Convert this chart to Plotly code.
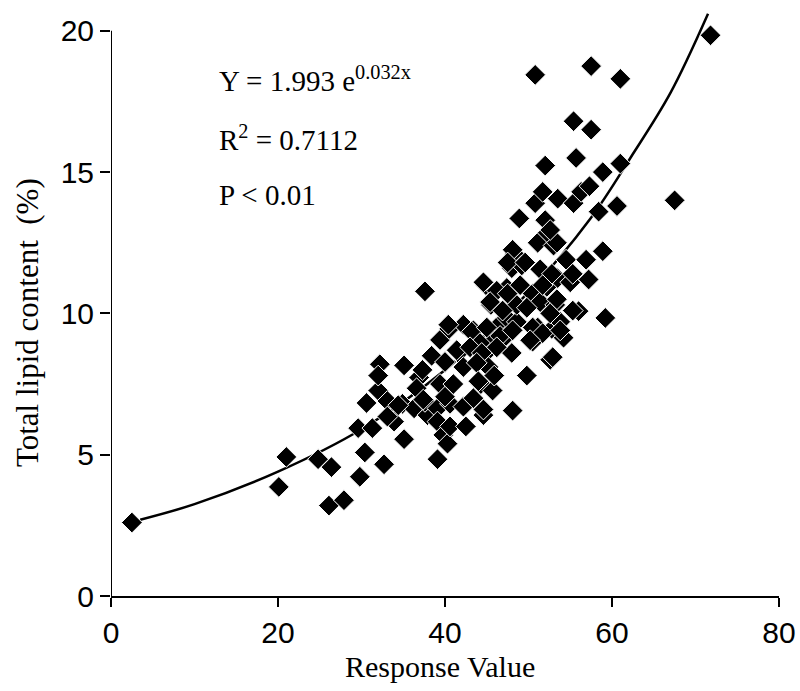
import plotly.graph_objects as go

# Scatter data
response_value = [
    2.5, 20.1, 21.0, 24.8, 26.4, 26.1, 27.9, 29.6, 29.8, 30.4, 30.6, 31.3, 32.2, 32.0, 32.0,
    32.7, 33.1, 33.9, 34.9, 35.1, 35.1, 36.3, 36.9, 37.3, 37.6, 37.9, 37.6, 38.4, 39.1, 39.1,
    39.1, 39.4, 39.4, 39.8, 40.3, 40.0, 40.5, 40.6, 41.0, 40.6, 41.6, 42.2, 42.5, 42.2, 43.4,
    43.4, 44.3, 44.6, 44.9, 44.9, 45.2, 45.5, 45.9, 45.7, 45.9, 46.5, 47.1, 47.4, 47.4, 48.0,
    48.1, 48.0, 48.3, 48.6, 48.6, 48.9, 49.2, 49.8, 50.5, 50.5, 50.8, 50.8, 51.1, 51.1, 51.4,
    51.4, 52.0, 52.0, 51.7, 52.2, 52.6, 52.8, 53.0, 53.2, 53.5, 53.5, 53.8, 54.2, 54.5, 55.0,
    55.4, 55.7, 55.4, 56.0, 56.3, 56.9, 57.2, 57.3, 57.5, 57.5, 58.4, 58.9, 58.9, 59.2, 60.6,
    61.0, 61.0, 67.5, 71.8,
    52.3, 53.4, 48.1, 47.5, 49.6, 52.8, 55.3, 44.6, 46.2, 47.5, 49.0, 51.7, 53.4, 45.4, 46.9,
    49.8, 52.6, 55.3, 43.2, 45.0, 46.6, 48.1, 50.5, 51.7, 53.8, 44.2, 46.2, 50.2, 52.9,
    40.4, 41.4, 43.0, 44.4, 42.2, 43.8, 44.0, 36.6, 37.4, 40.0, 34.4, 33.1, 44.6, 52.6,
]
lipid_content = [
    2.6, 3.86, 4.92, 4.84, 4.56, 3.2, 3.39, 5.94, 4.22, 5.08, 6.83, 5.94, 8.2, 7.27, 7.8,
    4.66, 6.9, 6.17, 6.8, 5.55, 8.16, 6.64, 7.73, 8.0, 10.78, 6.4, 6.87, 8.5, 6.64, 6.17,
    4.84, 9.06, 7.5, 5.7, 5.39, 8.28, 9.45, 6.8, 7.5, 6.0, 8.6, 9.6, 6.0, 6.7, 9.4,
    7.0, 7.5, 6.4, 11.0, 8.6, 8.1, 10.3, 9.06, 7.27, 7.8, 9.6, 9.14, 10.9, 9.84, 8.6,
    6.56, 11.6, 12.1, 9.7, 10.3, 13.36, 11.7, 7.8, 9.0, 10.7, 18.44, 13.9, 9.5, 12.5, 11.56,
    10.4, 15.23, 13.3, 14.3, 10.94, 8.36, 9.45, 12.4, 10.3, 14.06, 11.25, 9.7, 9.14, 11.9, 11.1,
    16.8, 15.5, 13.9, 10.08, 14.3, 11.9, 11.2, 14.5, 18.75, 16.5, 13.6, 12.2, 15.0, 9.84, 13.8,
    18.3, 15.3, 14.0, 19.84,
    12.85, 12.5, 12.25, 11.8, 11.8, 11.4, 11.4, 11.1, 10.8, 10.7, 11.0, 11.0, 10.5, 10.4, 10.1,
    10.2, 10.0, 10.1, 9.35, 9.5, 9.2, 9.4, 9.5, 9.3, 9.4, 8.95, 8.8, 9.05, 8.45,
    9.6, 8.7, 8.8, 8.6, 8.1, 8.25, 7.6, 7.35, 6.95, 7.05, 6.75, 6.35, 6.6, 12.95,
]

# Fitted curve as drawn in the picture
curve_x = [3.5, 10, 20, 30, 40, 50, 57.4, 62.2, 67, 71.5]
curve_y = [2.7, 3.25, 4.4, 5.9, 8.0, 10.75, 13.35, 15.5, 17.8, 20.6]

x_ticks = [0, 20, 40, 60, 80]
y_ticks = [0, 5, 10, 15, 20]

SERIF = "Liberation Serif"
SANS = "Liberation Sans"

fig = go.Figure()
fig.add_trace(go.Scatter(
    x=curve_x, y=curve_y, mode="lines", line=dict(color="black", width=2.5, shape="spline"),
    hoverinfo="skip", showlegend=False,
))
fig.add_trace(go.Scatter(
    x=response_value, y=lipid_content, mode="markers",
    marker=dict(symbol="diamond", size=16, color="black", line=dict(color="white", width=1)),
    cliponaxis=False, showlegend=False,
))

# y axis line only up to 20
fig.add_shape(type="line", xref="x", yref="y", x0=0, x1=0, y0=0, y1=20,
              line=dict(color="black", width=2))

ann_font = dict(family=SERIF, size=29, color="black")
fig.add_annotation(x=12.7, y=18.3, xref="x", yref="y", xanchor="left", yanchor="middle",
                   text="Y = 1.993 e<sup>0.032x</sup>", showarrow=False, font=ann_font)
fig.add_annotation(x=12.7, y=16.2, xref="x", yref="y", xanchor="left", yanchor="middle",
                   text="R<sup>2</sup> = 0.7112", showarrow=False, font=ann_font)
fig.add_annotation(x=12.7, y=14.2, xref="x", yref="y", xanchor="left", yanchor="middle",
                   text="P < 0.01", showarrow=False, font=ann_font)

# axis titles
fig.add_annotation(x=0.493, y=-0.12, xref="paper", yref="paper", xanchor="center", yanchor="middle",
                   text="Response Value", showarrow=False,
                   font=dict(family=SERIF, size=30, color="black"))
fig.add_annotation(x=-0.126, y=0.468, xref="paper", yref="paper", xanchor="center", yanchor="middle",
                   text="Total lipid content  (%)", showarrow=False, textangle=-90,
                   font=dict(family=SERIF, size=31, color="black"))

fig.update_layout(
    width=800, height=691,
    margin=dict(l=111, r=21, t=11, b=95),
    paper_bgcolor="white", plot_bgcolor="white",
    xaxis=dict(
        range=[0, 80], tickvals=x_ticks, ticktext=[str(v) for v in x_ticks],
        showline=True, linecolor="black", linewidth=2, showgrid=False, zeroline=False,
        ticks="outside", ticklen=9, tickwidth=2, tickcolor="black", automargin=False,
        tickfont=dict(family=SANS, size=30, color="black"),
    ),
    yaxis=dict(
        range=[0, 20.7], tickvals=y_ticks, ticktext=[str(v) for v in y_ticks],
        showline=False, showgrid=False, zeroline=False, automargin=False,
        ticks="outside", ticklen=10, tickwidth=2, tickcolor="black",
        tickfont=dict(family=SANS, size=30, color="black"),
    ),
)

fig.write_html(
    "out.html",
    config={"displayModeBar": False},
    post_script="document.body.style.margin='0';document.body.style.overflow='hidden';",
)
